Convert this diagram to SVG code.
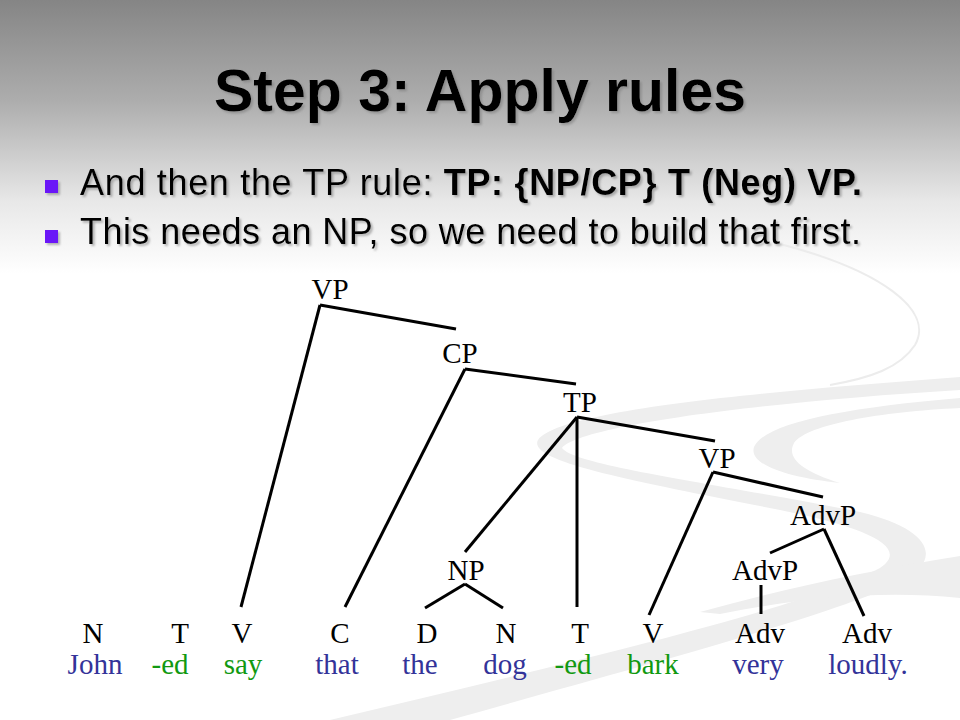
<svg xmlns="http://www.w3.org/2000/svg" width="960" height="720" viewBox="0 0 960 720">
  <defs>
    <linearGradient id="bg" x1="0" y1="0" x2="0" y2="720" gradientUnits="userSpaceOnUse">
      <stop offset="0" stop-color="#858585"/>
      <stop offset="0.14" stop-color="#adadad"/>
      <stop offset="0.28" stop-color="#e8e8e8"/>
      <stop offset="0.38" stop-color="#ffffff"/>
      <stop offset="1" stop-color="#ffffff"/>
    </linearGradient>
    <filter id="shadow" x="-5%" y="-20%" width="110%" height="150%">
      <feDropShadow dx="2" dy="2" stdDeviation="1" flood-color="#7a7a7a" flood-opacity="0.55"/>
    </filter>
  </defs>
  <style>
    .title { font-family: "Liberation Sans", Arial, sans-serif; font-weight: bold; font-size: 59px; fill: #000; }
    .bullet { font-family: "Liberation Sans", Arial, sans-serif; font-size: 36px; fill: #000; }
    .b { font-weight: bold; }
    .lbl { font-family: "Liberation Serif", "Times New Roman", serif; font-size: 29px; fill: #000; text-anchor: middle; }
    .blue { fill: #333399; }
    .green { fill: #119911; }
    .edge { stroke: #000; stroke-width: 3; stroke-linecap: butt; fill: none; }
    .sw { fill: #eeeeee; }
    .swl { fill: none; stroke: #ececec; }
  </style>

  <rect x="0" y="0" width="960" height="720" fill="url(#bg)"/>

  <!-- decorative swoosh -->
  <g id="decoration">
    <path class="swl" stroke-width="2" d="M 780 244 C 880 270 935 310 915 345 C 900 368 870 378 830 385"/>
    <path class="sw" d="M 960 377 C 760 392 560 410 538 440 C 526 462 640 482 780 510 C 870 528 910 548 880 568 C 800 610 560 665 330 720 L 450 720 C 620 672 810 622 895 585 C 945 562 935 530 860 512 C 720 484 575 466 562 448 C 580 426 760 402 960 390 Z"/>
    <path class="sw" d="M 960 398 C 840 408 764 424 754 447 C 748 465 790 478 840 483 C 802 471 786 458 794 443 C 808 424 880 412 960 408 Z"/>
    <path class="sw" d="M 960 556 C 860 572 780 590 700 612 L 720 614 C 800 598 880 590 960 598 Z"/>
  </g>

  <g id="title">
    <text class="title" x="480" y="111" text-anchor="middle" filter="url(#shadow)">Step 3: Apply rules</text>
  </g>

  <g id="bullets" filter="url(#shadow)">
    <rect x="45" y="180" width="13" height="13" fill="#6B12F7"/>
    <text class="bullet" x="80" y="195" textLength="782" lengthAdjust="spacing">And then the TP rule: <tspan class="b">TP: {NP/CP} T (Neg) VP.</tspan></text>
    <rect x="45" y="230" width="13" height="13" fill="#6B12F7"/>
    <text class="bullet" x="80" y="244" textLength="781" lengthAdjust="spacing">This needs an NP, so we need to build that first.</text>
  </g>

  <g id="connectors">
    <line class="edge" x1="320" y1="305" x2="456" y2="329"/>
    <line class="edge" x1="320" y1="305" x2="241" y2="607"/>
    <line class="edge" x1="465" y1="369" x2="576" y2="384"/>
    <line class="edge" x1="465" y1="369" x2="345" y2="607"/>
    <line class="edge" x1="577" y1="417" x2="715" y2="441"/>
    <line class="edge" x1="577" y1="417" x2="465" y2="552"/>
    <line class="edge" x1="577" y1="417" x2="577" y2="607"/>
    <line class="edge" x1="713" y1="472" x2="823" y2="497"/>
    <line class="edge" x1="713" y1="472" x2="649" y2="615"/>
    <line class="edge" x1="824" y1="529" x2="770" y2="553"/>
    <line class="edge" x1="824" y1="529" x2="864" y2="616"/>
    <line class="edge" x1="761" y1="585" x2="761" y2="614"/>
    <line class="edge" x1="465" y1="584" x2="425" y2="608"/>
    <line class="edge" x1="465" y1="584" x2="503" y2="608"/>
  </g>

  <g id="node-VP1"><text class="lbl" x="330" y="299">VP</text></g>
  <g id="node-CP"><text class="lbl" x="460" y="363">CP</text></g>
  <g id="node-TP"><text class="lbl" x="580" y="412">TP</text></g>
  <g id="node-VP2"><text class="lbl" x="717" y="468">VP</text></g>
  <g id="node-AdvP1"><text class="lbl" x="823" y="525">AdvP</text></g>
  <g id="node-AdvP2"><text class="lbl" x="765" y="580">AdvP</text></g>
  <g id="node-NP"><text class="lbl" x="466" y="580">NP</text></g>

  <g id="leaf-N1"><text class="lbl" x="93" y="643">N</text><text class="lbl blue" x="95" y="674">John</text></g>
  <g id="leaf-T1"><text class="lbl" x="180" y="643">T</text><text class="lbl green" x="170" y="674">-ed</text></g>
  <g id="leaf-V1"><text class="lbl" x="242" y="643">V</text><text class="lbl green" x="243" y="674">say</text></g>
  <g id="leaf-C"><text class="lbl" x="340" y="643">C</text><text class="lbl blue" x="337" y="674">that</text></g>
  <g id="leaf-D"><text class="lbl" x="427" y="643">D</text><text class="lbl blue" x="420" y="674">the</text></g>
  <g id="leaf-N2"><text class="lbl" x="506" y="643">N</text><text class="lbl blue" x="505" y="674">dog</text></g>
  <g id="leaf-T2"><text class="lbl" x="580" y="643">T</text><text class="lbl green" x="573" y="674">-ed</text></g>
  <g id="leaf-V2"><text class="lbl" x="653" y="643">V</text><text class="lbl green" x="653" y="674">bark</text></g>
  <g id="leaf-Adv1"><text class="lbl" x="760" y="643">Adv</text><text class="lbl blue" x="758" y="674">very</text></g>
  <g id="leaf-Adv2"><text class="lbl" x="867" y="643">Adv</text><text class="lbl blue" x="868" y="674">loudly.</text></g>
</svg>
